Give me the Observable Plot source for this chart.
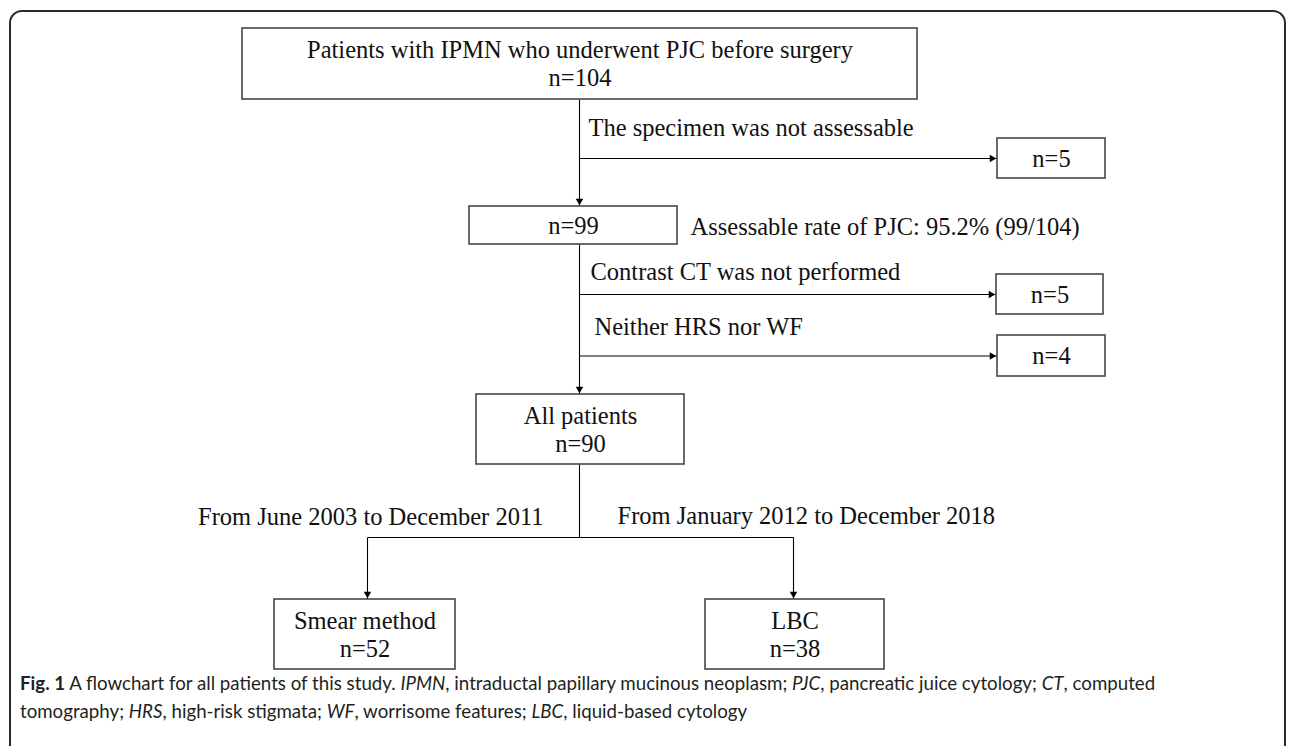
<!DOCTYPE html>
<html>
<head>
<meta charset="utf-8">
<script src="https://cdn.jsdelivr.net/npm/d3@7"></script>
<script src="https://cdn.jsdelivr.net/npm/@observablehq/plot@0.6"></script>
<style>
  html, body { margin: 0; padding: 0; width: 1290px; height: 746px; overflow: hidden; background: #fff; }
  #chart { position: absolute; left: 0; top: 0; }
  #frame { position: absolute; left: 9px; top: 10px; width: 1277px; height: 800px;
           border: 2px solid #2a2a2a; border-bottom: none; border-radius: 13px 13px 0 0;
           box-sizing: border-box; pointer-events: none; }
  #caption { position: absolute; left: 20px; top: 669px; white-space: nowrap;
             font-family: Lato, "Open Sans", sans-serif; font-size: 18.7px; line-height: 28px; color: #231f20; }
</style>
</head>
<body>
<div id="chart"></div>
<div id="frame"></div>
<div id="caption"></div>
<script>
// ---------------- data ----------------
const mainTitles = ["Patients with IPMN who underwent PJC before surgery", "", "All patients"];
const mainCounts = [104, 99, 90];
const exclusionReasons = ["The specimen was not assessable", "Contrast CT was not performed", "Neither HRS nor WF"];
const exclusionCounts = [5, 5, 4];
const assessableNote = "Assessable rate of PJC: 95.2% (99/104)";
const groupPeriods = ["From June 2003 to December 2011", "From January 2012 to December 2018"];
const groupMethods = ["Smear method", "LBC"];
const groupCounts = [52, 38];
const captionHTML = '<b>Fig. 1</b> A flowchart for all patients of this study. <i>IPMN</i>, intraductal papillary mucinous neoplasm; <i>PJC</i>, pancreatic juice cytology; <i>CT</i>, computed<br>tomography; <i>HRS</i>, high-risk stigmata; <i>WF</i>, worrisome features; <i>LBC</i>, liquid-based cytology';

// ---------------- layout (flowchart space) ----------------
const W = 1290, H = 680;
const layout = {
  spineX: 579,
  main: [
    {x1: 242, x2: 917, y1: 28, y2: 99},
    {x1: 469, x2: 677, y1: 206, y2: 244},
    {x1: 476, x2: 684, y1: 394, y2: 464}
  ],
  exclusions: [
    {x1: 997, x2: 1105, y1: 138, y2: 178},
    {x1: 996, x2: 1103, y1: 274, y2: 314},
    {x1: 997, x2: 1105, y1: 335, y2: 376}
  ],
  reasonX: [588, 590, 594],
  reasonBaseline: [135, 279, 334],
  noteX: 690, noteBaseline: 234,
  branchY: 537,
  groups: [
    {x1: 274, x2: 455, y1: 599, y2: 669},
    {x1: 705, x2: 884, y1: 599, y2: 669}
  ],
  stemX: [367, 793],
  periodX: [543, 617],
  periodBaseline: [524, 523]
};

// ---------------- build tables ----------------
const boxes = [];
const lines = [];
function addBox(b, title, count) {
  boxes.push(b);
  const cx = (b.x1 + b.x2) / 2, cy = (b.y1 + b.y2) / 2;
  const countText = "n=" + count;
  if (title) {
    lines.push({x: cx, y: cy - 6, t: title});
    lines.push({x: cx, y: cy + 22, t: countText});
  } else {
    lines.push({x: cx, y: cy + 8, t: countText});
  }
}
mainTitles.forEach((t, i) => addBox(layout.main[i], t, mainCounts[i]));
exclusionCounts.forEach((c, i) => addBox(layout.exclusions[i], "", c));
groupMethods.forEach((t, i) => addBox(layout.groups[i], t, groupCounts[i]));

const links = [];
const sx = layout.spineX;
links.push({x1: sx, y1: layout.main[0].y2, x2: sx, y2: layout.main[1].y1, head: "down"});
links.push({x1: sx, y1: layout.main[1].y2, x2: sx, y2: layout.main[2].y1, head: "down"});
links.push({x1: sx, y1: layout.main[2].y2, x2: sx, y2: layout.branchY, head: null});
layout.exclusions.forEach(b => {
  const cy = (b.y1 + b.y2) / 2;
  links.push({x1: sx, y1: cy, x2: b.x1, y2: cy, head: "right"});
});
links.push({x1: layout.stemX[0], y1: layout.branchY, x2: layout.stemX[1], y2: layout.branchY, head: null});
layout.groups.forEach((b, i) => {
  links.push({x1: layout.stemX[i], y1: layout.branchY, x2: layout.stemX[i], y2: b.y1, head: "down"});
});

const heads = links.filter(d => d.head).map(d => ({x: d.x2, y: d.y2, head: d.head}));
const headR = 3.6;
const headOff = 2 * headR * Math.sqrt(Math.PI / (3 * Math.sqrt(3)));

const reasons = exclusionReasons.map((t, i) => ({x: layout.reasonX[i], y: layout.reasonBaseline[i], t}));
const startTexts = [...reasons, {x: layout.noteX, y: layout.noteBaseline, t: assessableNote},
                    {x: layout.periodX[1], y: layout.periodBaseline[1], t: groupPeriods[1]}];
const endTexts = [{x: layout.periodX[0], y: layout.periodBaseline[0], t: groupPeriods[0]}];

const serif = "'Liberation Serif', 'Times New Roman', serif";
const fs = 24.5;
const ink = "#111";

const chart = Plot.plot({
  width: W, height: H,
  margin: 0,
  x: {domain: [0, W], range: [0, W], axis: null},
  y: {domain: [0, H], range: [0, H], axis: null},
  style: {background: "transparent", overflow: "visible", fontFamily: serif},
  marks: [
    Plot.link(links, {x1: "x1", y1: "y1", x2: "x2", y2: "y2", stroke: "#000", strokeWidth: 1.1}),
    Plot.rect(boxes, {x1: "x1", x2: "x2", y1: "y1", y2: "y2", fill: "#fff", stroke: "#474747", strokeWidth: 1.6}),
    Plot.dot(heads.filter(d => d.head === "down"), {x: "x", y: "y", symbol: "triangle2", r: headR, rotate: 180, dy: -headOff, fill: "#000", stroke: "none"}),
    Plot.dot(heads.filter(d => d.head === "right"), {x: "x", y: "y", symbol: "triangle2", r: headR, rotate: 90, dx: -headOff, fill: "#000", stroke: "none"}),
    Plot.text(lines, {x: "x", y: "y", text: "t", textAnchor: "middle", lineAnchor: "bottom", fontSize: fs, fontFamily: serif, fill: ink}),
    Plot.text(startTexts, {x: "x", y: "y", text: "t", textAnchor: "start", lineAnchor: "bottom", fontSize: fs, fontFamily: serif, fill: ink}),
    Plot.text(endTexts, {x: "x", y: "y", text: "t", textAnchor: "end", lineAnchor: "bottom", fontSize: fs, fontFamily: serif, fill: ink})
  ]
});
document.getElementById("chart").appendChild(chart);
document.getElementById("caption").innerHTML = captionHTML;
</script>
</body>
</html>
